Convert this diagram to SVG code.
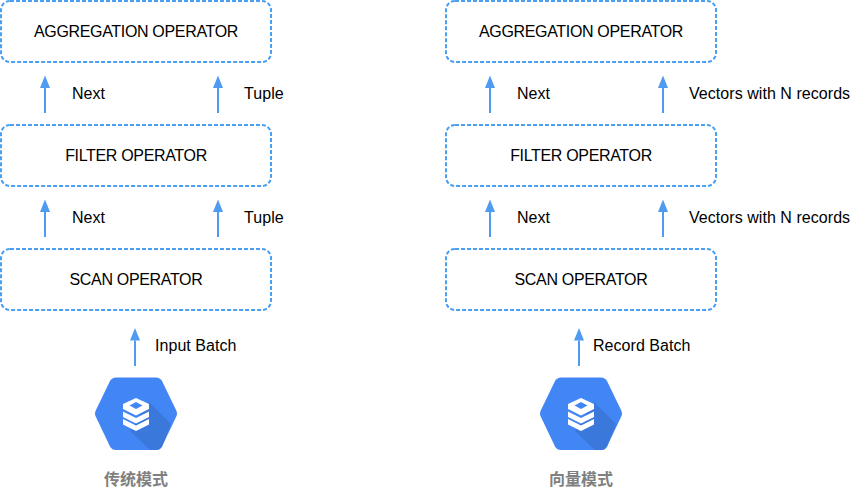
<svg xmlns="http://www.w3.org/2000/svg" width="857" height="495" viewBox="0 0 857 495">
<style>
.box{fill:#fff;stroke:#4a9ff2;stroke-width:2;stroke-dasharray:4 2}
.line{fill:none;stroke:#4f9bf2;stroke-width:2;marker-end:url(#arrow)}
.head{fill:#4f9bf2}
text{font-family:"Liberation Sans",Arial,sans-serif;fill:#000}
.c{text-anchor:middle;font-size:16px;letter-spacing:-.33px}
.l{font-size:16px;letter-spacing:.05px}
.cap{font-family:"Noto Sans CJK SC","Liberation Sans",sans-serif;font-size:16px;font-weight:700;fill:#808080;text-anchor:middle}
</style>
<defs>
<marker id="arrow" markerUnits="userSpaceOnUse" markerWidth="13" markerHeight="10" refX="0" refY="5" orient="auto" viewBox="0 0 13 10"><path class="head" d="M12.500 5L0 10V0Z"/></marker>
<g id="db">
<path d="M-20 -50.500H20Q24 -50.500 26 -47L40.500 -17Q41.500 -14.500 40.500 -12L26 18.500Q24 22 20 22H-20Q-24 22 -26 18.500L-40.500 -12Q-41.500 -14.500 -40.500 -17L-26 -47Q-24 -50.500 -20 -50.500Z" fill="#4285f4"/>
<path d="M13 -26L35 -4L26 18.500Q24 22 20 22H14L-6 3Z" fill="#3b78db"/>
<path d="M0 -30L13 -24V-19L0 -12.500L-13 -19V-24Z" fill="#fff"/>
<path d="M0 -26L6.500 -22.500L0 -19L-6.500 -22.500Z" fill="#4285f4"/>
<path d="M-13 -16.500L0 -10L13 -16.500V-11L0 -4.500L-13 -11Z" fill="#fff"/>
<path d="M-13 -9L0 -2.500L13 -9V-3.500L0 3L-13 -3.500Z" fill="#fff"/>
</g>
</defs>
<g id="connectors">
<line class="line" x1="45" y1="113" x2="45" y2="88"/>
<line class="line" x1="218" y1="113" x2="218" y2="88"/>
<line class="line" x1="45" y1="237" x2="45" y2="212"/>
<line class="line" x1="218" y1="237" x2="218" y2="212"/>
<line class="line" x1="135" y1="366" x2="135" y2="340.500"/>
<line class="line" x1="490" y1="113" x2="490" y2="88"/>
<line class="line" x1="663" y1="113" x2="663" y2="88"/>
<line class="line" x1="490" y1="237" x2="490" y2="212"/>
<line class="line" x1="663" y1="237" x2="663" y2="212"/>
<line class="line" x1="579" y1="366" x2="579" y2="340.500"/>
</g>
<g id="left-aggregation"><rect class="box" x="1" y="1" width="270" height="61" rx="9"/><text class="c" x="136" y="36.500">AGGREGATION OPERATOR</text></g>
<g id="left-filter"><rect class="box" x="1" y="125" width="270" height="61" rx="9"/><text class="c" x="136" y="160.500">FILTER OPERATOR</text></g>
<g id="left-scan"><rect class="box" x="1" y="249" width="270" height="61" rx="9"/><text class="c" x="136" y="284.500">SCAN OPERATOR</text></g>
<g id="right-aggregation"><rect class="box" x="446" y="1" width="270" height="61" rx="9"/><text class="c" x="581" y="36.500">AGGREGATION OPERATOR</text></g>
<g id="right-filter"><rect class="box" x="446" y="125" width="270" height="61" rx="9"/><text class="c" x="581" y="160.500">FILTER OPERATOR</text></g>
<g id="right-scan"><rect class="box" x="446" y="249" width="270" height="61" rx="9"/><text class="c" x="581" y="284.500">SCAN OPERATOR</text></g>
<g id="labels">
<text class="l" x="72" y="98.500">Next</text><text class="l" x="244" y="98.500">Tuple</text>
<text class="l" x="72" y="222.500">Next</text><text class="l" x="244" y="222.500">Tuple</text>
<text class="l" x="155" y="350.500">Input Batch</text>
<text class="l" x="517" y="98.500">Next</text><text class="l" x="689" y="98.500">Vectors with N records</text>
<text class="l" x="517" y="222.500">Next</text><text class="l" x="689" y="222.500">Vectors with N records</text>
<text class="l" x="593" y="350.500">Record Batch</text>
</g>
<g id="left-db"><use href="#db" x="136" y="428"/><text class="cap" x="136" y="485">传统模式</text></g>
<g id="right-db"><use href="#db" x="581" y="428"/><text class="cap" x="581" y="485">向量模式</text></g>
</svg>
